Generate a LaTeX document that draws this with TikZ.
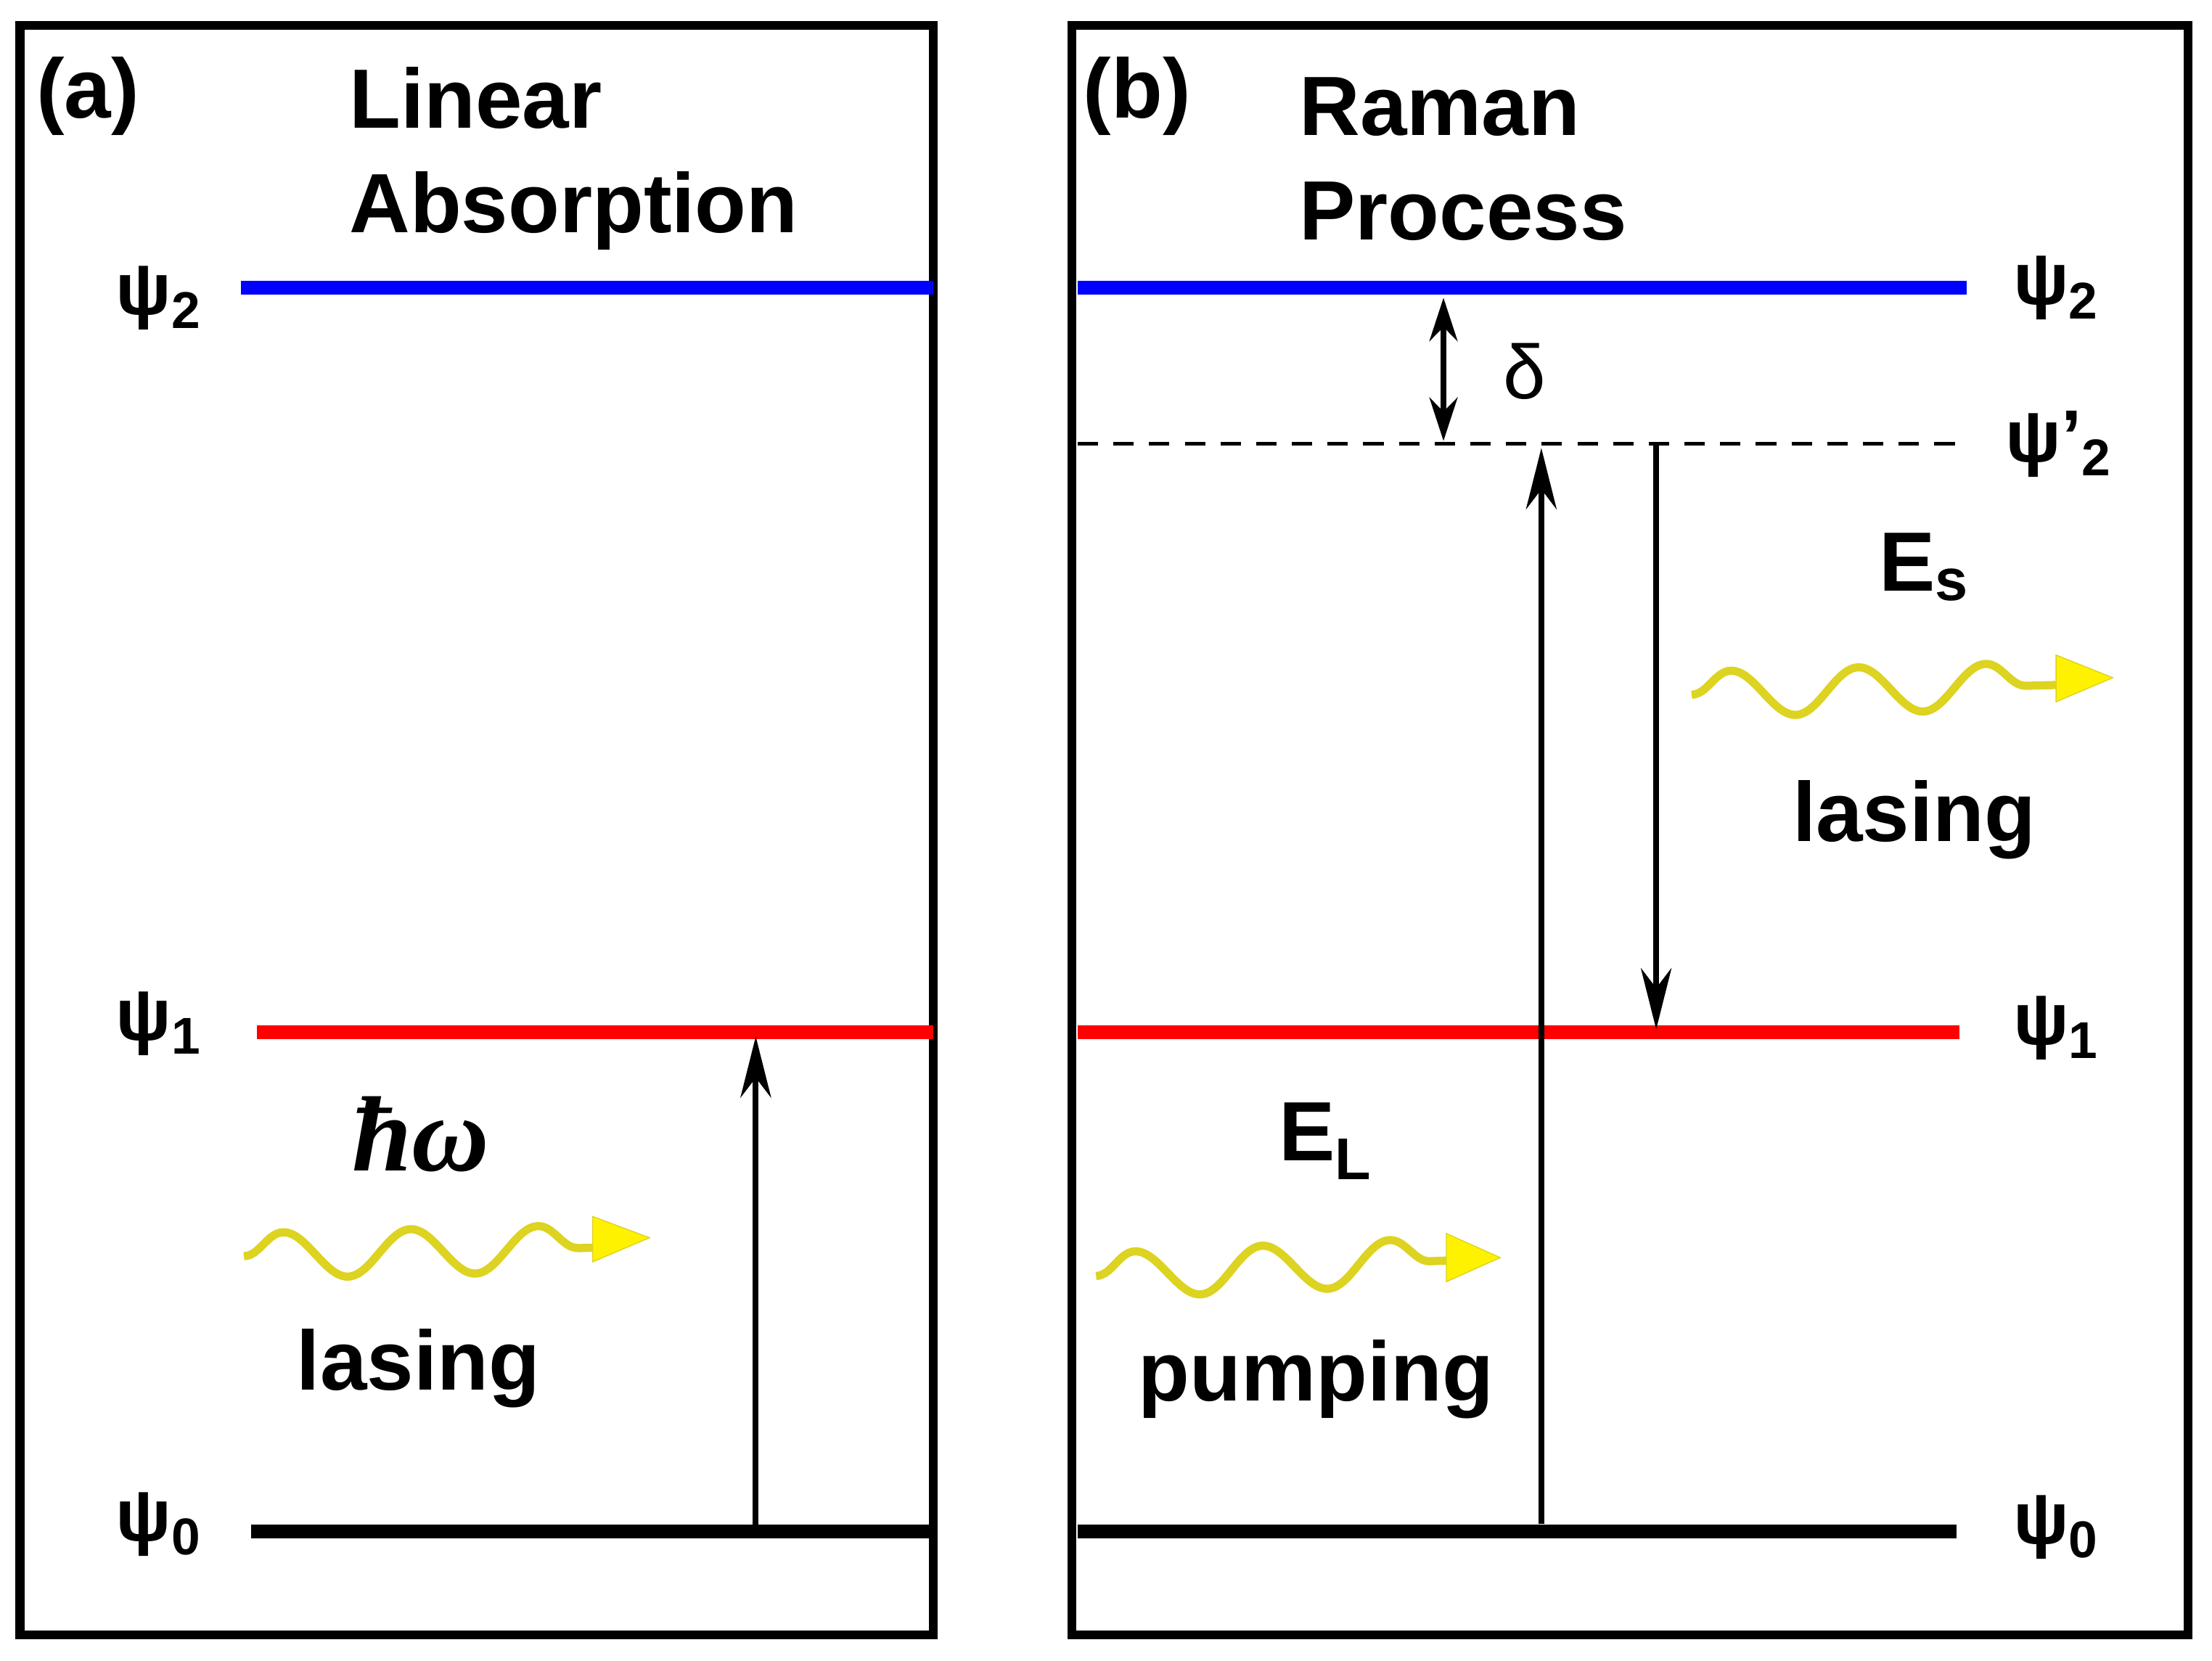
\documentclass[tikz,border=0pt]{standalone}
\usepackage{fontspec}
\setmainfont{Liberation Sans}
\newfontfamily\serifit{Liberation Serif}
\usetikzlibrary{decorations.pathmorphing,arrows.meta}
\begin{document}
\begin{tikzpicture}[x=0.01954cm,y=-0.01954cm,
  box/.style={line width=3.5pt},
  lev/.style={line width=5.5pt},
  tr/.style={line width=2.3pt,-{Stealth[length=24pt,width=12pt]}},
  wave/.style={line width=3.2pt,draw=yellow!85!black,decorate,decoration={snake,amplitude=9pt,segment length=50pt}},
  whead/.style={fill=yellow,draw=yellow!85!black},
  big/.style={font=\fontsize{33}{41}\selectfont\bfseries,anchor=west,align=left},
  lab/.style={font=\fontsize{33}{38}\selectfont\bfseries},
  psi/.style={font=\fontsize{29}{32}\selectfont\bfseries}]
\useasboundingbox (0,0) rectangle (1560,1171.5);
% panel a
\draw[box] (14,18) rectangle (658,1153);
\node[lab] (la) at (62,68) {(a)};
\node[big] (ta) at (240,112) {Linear\\Absorption};
\draw[lev,blue] (170,203) -- (658,203);
\draw[lev,red] (181,728) -- (658,728);
\draw[lev] (177,1080) -- (658,1080);
\node[psi] (a2) at (112,210) {ψ\textsubscript{2}};
\node[psi] (a1) at (112,722) {ψ\textsubscript{1}};
\node[psi] (a0) at (112,1075) {ψ\textsubscript{0}};
\coordinate (aa0) at (533,1078); \coordinate (aa1) at (533,731);
\draw[tr] (aa0) -- (aa1);
\node[font=\fontsize{42}{46}\selectfont\serifit\bfseries\itshape] (hw) at (297,800) {ħω};
\coordinate (wa0) at (172,886); \coordinate (wa1) at (420,880);
\draw[wave] (wa0) -- (wa1);
\draw[whead] (418,858) -- (458,873) -- (418,890) -- cycle;
\node[lab] (lsa) at (295,965) {lasing};
% panel b
\draw[box] (756,18) rectangle (1543,1153);
\node[lab] (lb) at (802,68) {(b)};
\node[big] (tb) at (910,112) {Raman\\Process};
\draw[lev,blue] (760,203) -- (1387,203);
\draw[line width=1.3pt,dash pattern=on 8pt off 6pt] (760,313) -- (1380,313);
\draw[lev,red] (760,728) -- (1382,728);
\draw[lev] (760,1080) -- (1380,1080);
\node[psi] (b2) at (1450,203) {ψ\textsubscript{2}};
\node[psi] (b2p) at (1452,313) {ψ'\textsubscript{2}};
\node[psi] (b1) at (1450,725) {ψ\textsubscript{1}};
\node[psi] (b0) at (1450,1077) {ψ\textsubscript{0}};
\coordinate (d0) at (1018,210); \coordinate (d1) at (1018,311);
\draw[line width=2.3pt,{Stealth[length=17pt,width=11pt]}-{Stealth[length=17pt,width=11pt]}] (d0) -- (d1);
\node[font=\fontsize{30}{34}\selectfont] (dl) at (1075,262) {δ};
\coordinate (u0) at (1087,1075); \coordinate (u1) at (1087,316);
\draw[tr] (u0) -- (u1);
\coordinate (v0) at (1168,313); \coordinate (v1) at (1168,726);
\draw[tr] (v0) -- (v1);
\node[lab] (es) at (1357,400) {E\textsubscript{s}};
\coordinate (wb0) at (1193,490); \coordinate (wb1) at (1455,483);
\draw[wave] (wb0) -- (wb1);
\draw[whead] (1450,462) -- (1490,478) -- (1450,495) -- cycle;
\node[lab] (lsb) at (1350,578) {lasing};
\node[lab] (el) at (935,805) {E\textsubscript{L}};
\coordinate (wc0) at (773,900); \coordinate (wc1) at (1022,889);
\draw[wave] (wc0) -- (wc1);
\draw[whead] (1020,870) -- (1058,887) -- (1020,904) -- cycle;
\node[lab] (pm) at (928,973) {pumping};
\end{tikzpicture}
\end{document}
